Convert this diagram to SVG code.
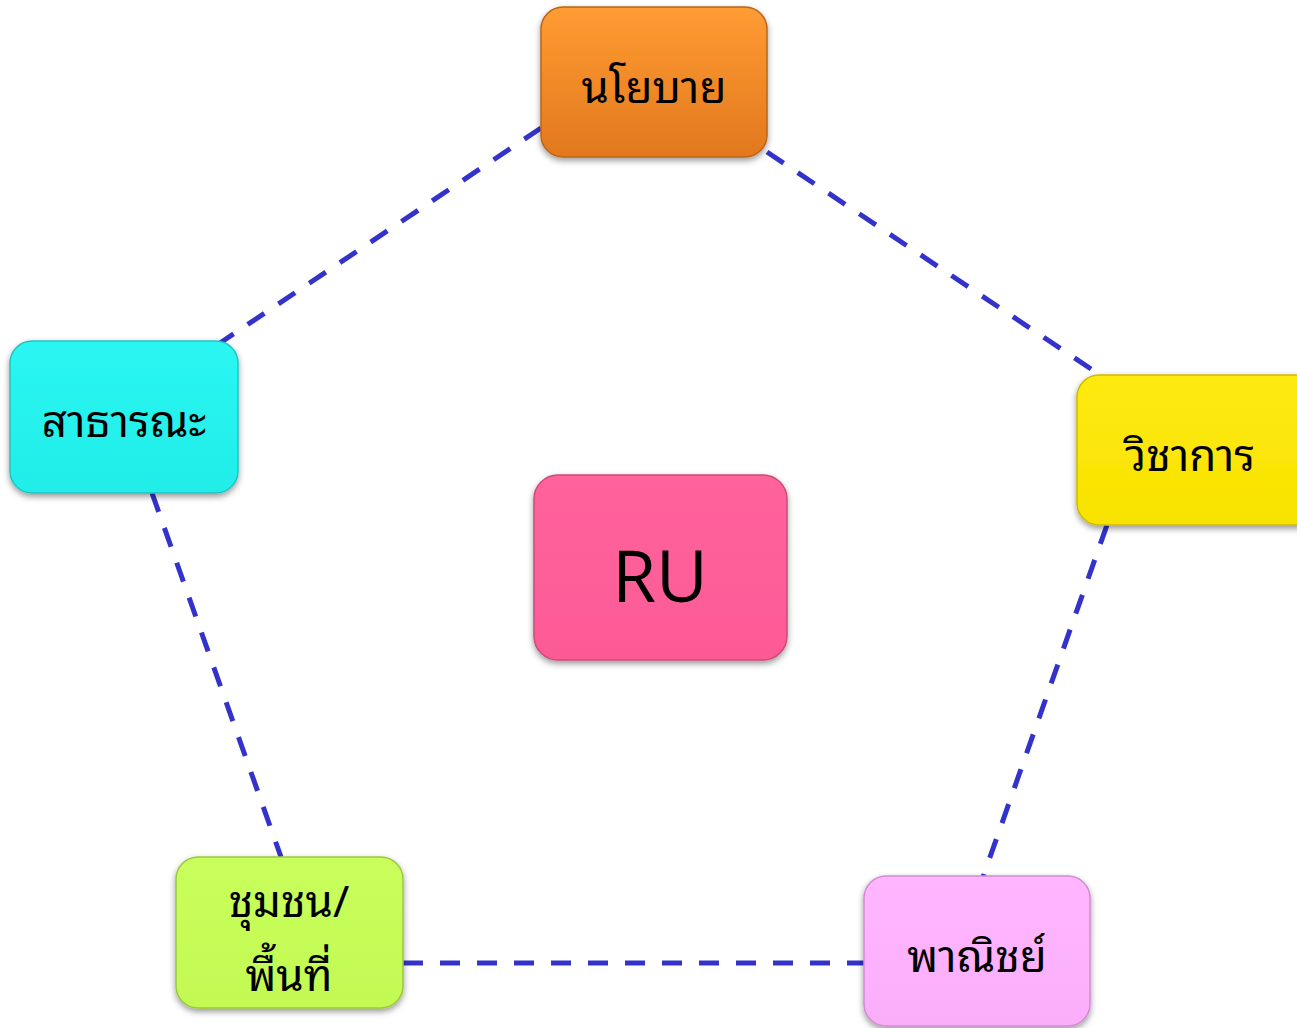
<svg xmlns="http://www.w3.org/2000/svg" width="1297" height="1028" viewBox="0 0 1297 1028">
<style>
.lbl{font-family:"Noto Sans Thai Looped","Noto Sans","Noto Sans Thai","Liberation Sans",sans-serif;font-size:44px;font-weight:400;fill:#000;text-anchor:middle}
.ru{font-family:"Open Sans","Noto Sans","Liberation Sans",sans-serif;font-size:71px;fill:#000;text-anchor:middle}
.edge{stroke:#3333CC;stroke-width:5;stroke-dasharray:20 17;fill:none}
.box{stroke-width:1.5;filter:url(#sh)}
</style>
<defs>
<filter id="sh" x="-10%" y="-10%" width="125%" height="130%">
<feDropShadow dx="0" dy="3" stdDeviation="3" flood-color="#000" flood-opacity="0.4"/>
</filter>
<linearGradient id="gO" x1="0" y1="0" x2="0" y2="1"><stop offset="0" stop-color="#FF9C32"/><stop offset="1" stop-color="#E2781E"/></linearGradient>
<linearGradient id="gC" x1="0" y1="0" x2="0" y2="1"><stop offset="0" stop-color="#2AF6F2"/><stop offset="1" stop-color="#22EDE8"/></linearGradient>
<linearGradient id="gY" x1="0" y1="0" x2="0" y2="1"><stop offset="0" stop-color="#FEEA10"/><stop offset="1" stop-color="#F8E200"/></linearGradient>
<linearGradient id="gP" x1="0" y1="0" x2="0" y2="1"><stop offset="0" stop-color="#FF639C"/><stop offset="1" stop-color="#FC5A96"/></linearGradient>
<linearGradient id="gG" x1="0" y1="0" x2="0" y2="1"><stop offset="0" stop-color="#C9FF5C"/><stop offset="1" stop-color="#C2F952"/></linearGradient>
<linearGradient id="gL" x1="0" y1="0" x2="0" y2="1"><stop offset="0" stop-color="#FFB6FF"/><stop offset="1" stop-color="#FAAEFA"/></linearGradient>
</defs>
<rect width="1297" height="1028" fill="#fff"/>
<g id="connectors">
<line class="edge" x1="541" y1="128" x2="220" y2="343"/>
<line class="edge" x1="767" y1="152" x2="1103" y2="377"/>
<line class="edge" x1="152" y1="493" x2="281" y2="857"/>
<line class="edge" x1="1107" y1="525" x2="983" y2="877"/>
<line class="edge" x1="403" y1="963" x2="864" y2="963"/>
</g>
<g id="n-policy">
<rect class="box" x="541" y="7" width="226" height="150" rx="22" fill="url(#gO)" stroke="#B86618"/>
<text class="lbl" x="654" y="103">นโยบาย</text>
</g>
<g id="n-public">
<rect class="box" x="10" y="341" width="228" height="152" rx="22" fill="url(#gC)" stroke="#1FC4C0"/>
<text class="lbl" x="124" y="437">สาธารณะ</text>
</g>
<g id="n-academic">
<rect class="box" x="1077" y="375" width="240" height="150" rx="22" fill="url(#gY)" stroke="#CDBB00"/>
<text class="lbl" x="1190" y="471">วิชาการ</text>
</g>
<g id="n-ru">
<rect class="box" x="534" y="475" width="253" height="185" rx="24" fill="url(#gP)" stroke="#CC4A7C"/>
<text class="ru" x="660" y="602">RU</text>
</g>
<g id="n-community">
<rect class="box" x="176" y="857" width="227" height="151" rx="22" fill="url(#gG)" stroke="#9CC840"/>
<text class="lbl" x="289" y="917">ชุมชน/</text>
<text class="lbl" x="289" y="991">พื้นที่</text>
</g>
<g id="n-commerce">
<rect class="box" x="864" y="876" width="226" height="150" rx="22" fill="url(#gL)" stroke="#CF8DCF"/>
<text class="lbl" x="977" y="972">พาณิชย์</text>
</g>
</svg>
